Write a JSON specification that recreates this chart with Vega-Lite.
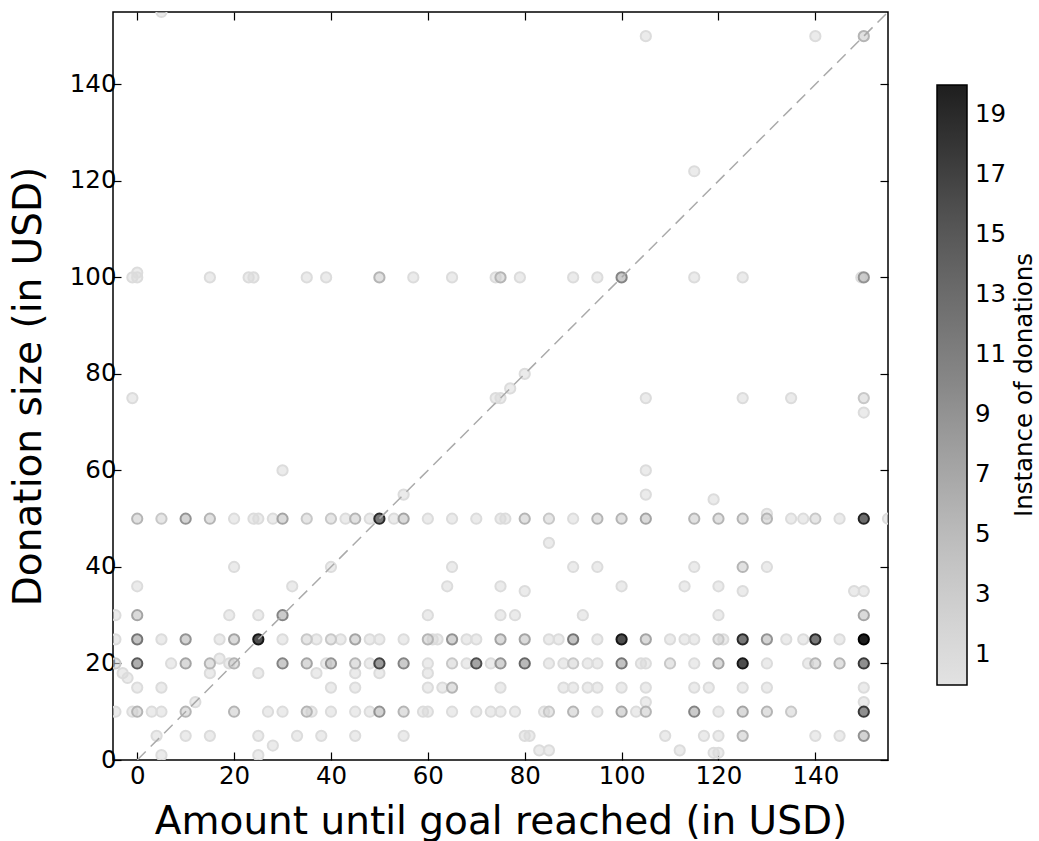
{
"$schema": "https://vega.github.io/schema/vega-lite/v6.json",
"width": 775, "height": 748,
"autosize": {"type": "none"},
"padding": {"left": 113, "top": 12, "right": 151, "bottom": 81},
"background": "white",
"config": {"font": "DejaVu Sans", "view": {"stroke": "black", "strokeWidth": 1.5},
 "axis": {"grid": false, "domain": false, "tickColor": "black", "tickSize": -8, "tickWidth": 1.2, "labelColor": "black", "labelFontSize": 24.5, "titleFontSize": 39, "titleFontWeight": "normal", "titleColor": "black"}},
"layer": [
{
"data": {"values": [
{"gap":0,"donation":50,"count":3},{"gap":5,"donation":50,"count":2},{"gap":10,"donation":50,"count":5},{"gap":15,"donation":50,"count":3},{"gap":20,"donation":50,"count":1},{"gap":24,"donation":50,"count":1},{"gap":25,"donation":50,"count":1},{"gap":28,"donation":50,"count":1},{"gap":30,"donation":50,"count":4},{"gap":35,"donation":50,"count":2},{"gap":40,"donation":50,"count":2},{"gap":43,"donation":50,"count":1},{"gap":45,"donation":50,"count":3},{"gap":48,"donation":50,"count":1},{"gap":50,"donation":50,"count":14},{"gap":53,"donation":50,"count":1},{"gap":55,"donation":50,"count":4},{"gap":60,"donation":50,"count":1},{"gap":65,"donation":50,"count":1},{"gap":70,"donation":50,"count":1},{"gap":75,"donation":50,"count":1},{"gap":76,"donation":50,"count":1},{"gap":80,"donation":50,"count":3},{"gap":85,"donation":50,"count":2},{"gap":90,"donation":50,"count":1},{"gap":95,"donation":50,"count":3},{"gap":100,"donation":50,"count":3},{"gap":105,"donation":50,"count":4},{"gap":115,"donation":50,"count":3},{"gap":120,"donation":50,"count":3},{"gap":125,"donation":50,"count":3},{"gap":130,"donation":50,"count":3},{"gap":130,"donation":51,"count":1},{"gap":135,"donation":50,"count":1},{"gap":137.5,"donation":50,"count":1},{"gap":140,"donation":50,"count":2},{"gap":145,"donation":50,"count":1},{"gap":150,"donation":50,"count":15},{"gap":155,"donation":50,"count":1},
{"gap":-4.5,"donation":25,"count":1},{"gap":0,"donation":25,"count":7},{"gap":5,"donation":25,"count":1},{"gap":10,"donation":25,"count":5},{"gap":17,"donation":25,"count":1},{"gap":20,"donation":25,"count":4},{"gap":25,"donation":25,"count":17},{"gap":30,"donation":25,"count":1},{"gap":35,"donation":25,"count":2},{"gap":37,"donation":25,"count":1},{"gap":40,"donation":25,"count":2},{"gap":42,"donation":25,"count":1},{"gap":45,"donation":25,"count":4},{"gap":48,"donation":25,"count":1},{"gap":50,"donation":25,"count":1},{"gap":55,"donation":25,"count":1},{"gap":60,"donation":25,"count":3},{"gap":61,"donation":25,"count":1},{"gap":62,"donation":25,"count":1},{"gap":65,"donation":25,"count":5},{"gap":68,"donation":25,"count":1},{"gap":70,"donation":25,"count":1},{"gap":75,"donation":25,"count":4},{"gap":80,"donation":25,"count":4},{"gap":85,"donation":25,"count":1},{"gap":87,"donation":25,"count":1},{"gap":90,"donation":25,"count":7},{"gap":95,"donation":25,"count":1},{"gap":100,"donation":25,"count":17},{"gap":105,"donation":25,"count":4},{"gap":110,"donation":25,"count":1},{"gap":113,"donation":25,"count":1},{"gap":115,"donation":25,"count":1},{"gap":120,"donation":25,"count":2},{"gap":121,"donation":25,"count":1},{"gap":125,"donation":25,"count":14},{"gap":130,"donation":25,"count":5},{"gap":134,"donation":25,"count":1},{"gap":137.5,"donation":25,"count":1},{"gap":140,"donation":25,"count":14},{"gap":145,"donation":25,"count":1},{"gap":150,"donation":25,"count":20},
{"gap":-4.5,"donation":20,"count":2},{"gap":0,"donation":20,"count":9},{"gap":7,"donation":20,"count":1},{"gap":10,"donation":20,"count":4},{"gap":15,"donation":20,"count":3},{"gap":19,"donation":20,"count":1},{"gap":20,"donation":20,"count":3},{"gap":30,"donation":20,"count":6},{"gap":35,"donation":20,"count":4},{"gap":39,"donation":20,"count":1},{"gap":40,"donation":20,"count":5},{"gap":45,"donation":20,"count":3},{"gap":48,"donation":20,"count":1},{"gap":50,"donation":20,"count":11},{"gap":55,"donation":20,"count":6},{"gap":60,"donation":20,"count":1},{"gap":65,"donation":20,"count":2},{"gap":68,"donation":20,"count":1},{"gap":70,"donation":20,"count":10},{"gap":73,"donation":20,"count":1},{"gap":75,"donation":20,"count":5},{"gap":80,"donation":20,"count":8},{"gap":85,"donation":20,"count":1},{"gap":88,"donation":20,"count":1},{"gap":90,"donation":20,"count":2},{"gap":93,"donation":20,"count":1},{"gap":95,"donation":20,"count":1},{"gap":100,"donation":20,"count":7},{"gap":104,"donation":20,"count":1},{"gap":105,"donation":20,"count":1},{"gap":110,"donation":20,"count":2},{"gap":115,"donation":20,"count":1},{"gap":120,"donation":20,"count":4},{"gap":125,"donation":20,"count":17},{"gap":130,"donation":20,"count":1},{"gap":138.5,"donation":20,"count":1},{"gap":140,"donation":20,"count":3},{"gap":145,"donation":20,"count":3},{"gap":150,"donation":20,"count":12},
{"gap":17,"donation":21,"count":1},{"gap":-3,"donation":18,"count":1},{"gap":-2,"donation":17,"count":1},{"gap":15,"donation":18,"count":1},{"gap":25,"donation":18,"count":1},{"gap":37,"donation":18,"count":1},{"gap":45,"donation":18,"count":1},{"gap":50,"donation":18,"count":1},{"gap":60,"donation":18,"count":1},
{"gap":0,"donation":15,"count":1},{"gap":5,"donation":15,"count":1},{"gap":40,"donation":15,"count":1},{"gap":45,"donation":15,"count":1},{"gap":60,"donation":15,"count":1},{"gap":63,"donation":15,"count":1},{"gap":65,"donation":15,"count":3},{"gap":75,"donation":15,"count":1},{"gap":88,"donation":15,"count":1},{"gap":90,"donation":15,"count":1},{"gap":93,"donation":15,"count":1},{"gap":95,"donation":15,"count":1},{"gap":100,"donation":15,"count":1},{"gap":105,"donation":15,"count":1},{"gap":115,"donation":15,"count":1},{"gap":118,"donation":15,"count":1},{"gap":125,"donation":15,"count":1},{"gap":130,"donation":15,"count":1},{"gap":150,"donation":15,"count":1},
{"gap":12,"donation":12,"count":1},{"gap":105,"donation":12,"count":1},{"gap":150,"donation":12,"count":1},
{"gap":-4.5,"donation":10,"count":1},{"gap":-1,"donation":10,"count":1},{"gap":0,"donation":10,"count":3},{"gap":3,"donation":10,"count":1},{"gap":5,"donation":10,"count":1},{"gap":10,"donation":10,"count":3},{"gap":20,"donation":10,"count":3},{"gap":27,"donation":10,"count":1},{"gap":30,"donation":10,"count":1},{"gap":35,"donation":10,"count":3},{"gap":36,"donation":10,"count":1},{"gap":40,"donation":10,"count":1},{"gap":45,"donation":10,"count":1},{"gap":48,"donation":10,"count":1},{"gap":50,"donation":10,"count":5},{"gap":55,"donation":10,"count":3},{"gap":59,"donation":10,"count":1},{"gap":60,"donation":10,"count":1},{"gap":65,"donation":10,"count":1},{"gap":70,"donation":10,"count":1},{"gap":73,"donation":10,"count":1},{"gap":75,"donation":10,"count":1},{"gap":78,"donation":10,"count":1},{"gap":84,"donation":10,"count":1},{"gap":85,"donation":10,"count":2},{"gap":90,"donation":10,"count":3},{"gap":95,"donation":10,"count":1},{"gap":100,"donation":10,"count":4},{"gap":103,"donation":10,"count":1},{"gap":105,"donation":10,"count":3},{"gap":115,"donation":10,"count":6},{"gap":120,"donation":10,"count":1},{"gap":125,"donation":10,"count":4},{"gap":130,"donation":10,"count":3},{"gap":135,"donation":10,"count":2},{"gap":150,"donation":10,"count":12},
{"gap":4,"donation":5,"count":1},{"gap":10,"donation":5,"count":1},{"gap":15,"donation":5,"count":1},{"gap":25,"donation":5,"count":1},{"gap":33,"donation":5,"count":1},{"gap":38,"donation":5,"count":1},{"gap":45,"donation":5,"count":1},{"gap":55,"donation":5,"count":1},{"gap":80,"donation":5,"count":1},{"gap":81,"donation":5,"count":1},{"gap":109,"donation":5,"count":1},{"gap":117,"donation":5,"count":1},{"gap":120,"donation":5,"count":1},{"gap":125,"donation":5,"count":3},{"gap":140,"donation":5,"count":1},{"gap":145,"donation":5,"count":1},{"gap":150,"donation":5,"count":5},
{"gap":28,"donation":3,"count":1},{"gap":5,"donation":1,"count":1},{"gap":25,"donation":1,"count":1},{"gap":83,"donation":2,"count":1},{"gap":85,"donation":2,"count":1},{"gap":112,"donation":2,"count":1},{"gap":119,"donation":1.5,"count":1},{"gap":120,"donation":1.5,"count":1},
{"gap":-4.5,"donation":30,"count":1},{"gap":0,"donation":30,"count":4},{"gap":19,"donation":30,"count":1},{"gap":25,"donation":30,"count":1},{"gap":30,"donation":30,"count":6},{"gap":60,"donation":30,"count":1},{"gap":75,"donation":30,"count":1},{"gap":78,"donation":30,"count":1},{"gap":92,"donation":30,"count":1},{"gap":120,"donation":30,"count":1},{"gap":150,"donation":30,"count":4},
{"gap":0,"donation":36,"count":1},{"gap":32,"donation":36,"count":1},{"gap":64,"donation":36,"count":1},{"gap":75,"donation":36,"count":1},{"gap":80,"donation":35,"count":1},{"gap":100,"donation":36,"count":1},{"gap":113,"donation":36,"count":1},{"gap":120,"donation":36,"count":1},{"gap":125,"donation":35,"count":1},{"gap":148,"donation":35,"count":1},{"gap":150,"donation":35,"count":1},
{"gap":20,"donation":40,"count":1},{"gap":40,"donation":40,"count":1},{"gap":65,"donation":40,"count":1},{"gap":90,"donation":40,"count":1},{"gap":95,"donation":40,"count":1},{"gap":115,"donation":40,"count":1},{"gap":125,"donation":40,"count":3},{"gap":130,"donation":40,"count":1},
{"gap":85,"donation":45,"count":1},{"gap":55,"donation":55,"count":1},{"gap":105,"donation":55,"count":1},{"gap":119,"donation":54,"count":1},{"gap":30,"donation":60,"count":1},{"gap":105,"donation":60,"count":1},{"gap":150,"donation":72,"count":1},
{"gap":-1,"donation":75,"count":1},{"gap":74,"donation":75,"count":1},{"gap":75,"donation":75,"count":1},{"gap":105,"donation":75,"count":1},{"gap":125,"donation":75,"count":1},{"gap":135,"donation":75,"count":1},{"gap":150,"donation":75,"count":2},{"gap":77,"donation":77,"count":1},{"gap":80,"donation":80,"count":1},
{"gap":-1,"donation":100,"count":1},{"gap":0,"donation":100,"count":1},{"gap":0,"donation":101,"count":1},{"gap":15,"donation":100,"count":1},{"gap":23,"donation":100,"count":1},{"gap":24,"donation":100,"count":1},{"gap":35,"donation":100,"count":1},{"gap":39,"donation":100,"count":1},{"gap":50,"donation":100,"count":3},{"gap":57,"donation":100,"count":1},{"gap":65,"donation":100,"count":1},{"gap":74,"donation":100,"count":1},{"gap":75,"donation":100,"count":3},{"gap":79,"donation":100,"count":1},{"gap":90,"donation":100,"count":1},{"gap":95,"donation":100,"count":1},{"gap":100,"donation":100,"count":6},{"gap":115,"donation":100,"count":1},{"gap":125,"donation":100,"count":1},{"gap":149.5,"donation":100,"count":1},{"gap":150,"donation":100,"count":5},
{"gap":115,"donation":122,"count":1},{"gap":105,"donation":150,"count":1},{"gap":140,"donation":150,"count":1},{"gap":150,"donation":150,"count":3},{"gap":5,"donation":155,"count":1}
]},
"mark": {"type": "circle", "size": 105, "strokeWidth": 2, "opacity": 1, "clip": true},
"encoding": {
 "x": {"field": "gap", "type": "quantitative", "scale": {"domain": [-5, 155], "nice": false, "zero": false},
  "axis": {"values": [0,20,40,60,80,100,120,140], "title": "Amount until goal reached (in USD)", "labelPadding": 12, "titleBaseline": "alphabetic", "titleY": 73}},
 "y": {"field": "donation", "type": "quantitative", "scale": {"domain": [0, 155], "nice": false, "zero": false},
  "axis": {"values": [0,20,40,60,80,100,120,140], "title": "Donation size (in USD)", "labelPadding": 5, "titleBaseline": "alphabetic", "titleX": -73}},
 "fill": {"field": "count", "type": "quantitative", "scale": {"scheme": "greys", "domain": [0, 20]},
  "legend": {"orient": "none", "legendX": 824, "legendY": 73, "direction": "vertical", "gradientLength": 600, "gradientThickness": 30, "gradientStrokeColor": "black", "gradientStrokeWidth": 1.5, "gradientOpacity": 1, "values": [1,3,5,7,9,11,13,15,17,19], "labelFontSize": 24.5, "labelColor": "black", "labelOffset": 8, "title": "Instance of donations", "titleOrient": "right", "titleFontSize": 24.5, "titleFontWeight": "normal", "titleColor": "black", "titlePadding": 7, "titleLimit": 700,
   "encoding": {"title": {"angle": {"value": -90}, "baseline": {"value": "top"}}}}},
 "stroke": {"field": "count", "type": "quantitative", "scale": {"domain": [1, 3, 5, 8, 12, 16, 20], "range": ["#dcdcdc", "#b5b5b5", "#939393", "#666666", "#383838", "#1c1c1c", "#000000"]}, "legend": null},
 "fillOpacity": {"field": "count", "type": "quantitative", "scale": {"domain": [1, 20], "range": [0.55, 1]}, "legend": null},
 "order": {"field": "count", "type": "quantitative"}
}
},
{
"data": {"values": [{"ax": 0, "dy": 0}, {"ax": 155, "dy": 155}]},
"mark": {"type": "line", "color": "#aaaaaa", "strokeDash": [12, 7], "strokeWidth": 1.5},
"encoding": {
 "x": {"field": "ax", "type": "quantitative", "scale": {"domain": [-5, 155], "nice": false, "zero": false},
  "axis": {"orient": "top", "labels": false, "title": null, "values": [0,20,40,60,80,100,120,140]}},
 "y": {"field": "dy", "type": "quantitative", "scale": {"domain": [0, 155], "nice": false, "zero": false},
  "axis": {"orient": "right", "labels": false, "title": null, "values": [0,20,40,60,80,100,120,140]}}
}
}
],
"resolve": {"axis": {"x": "independent", "y": "independent"}}
}
